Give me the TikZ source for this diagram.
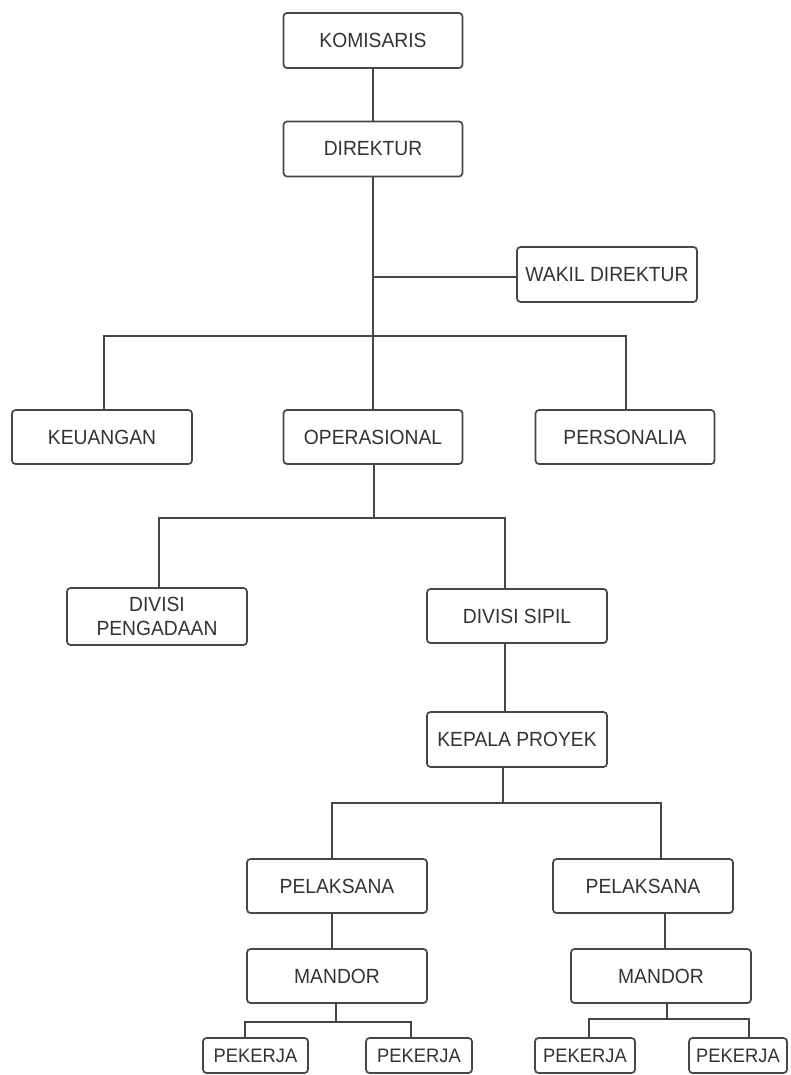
\documentclass[tikz,border=0pt]{standalone}
\usepackage{fontspec}
\setmainfont[FakeStretch=0.94]{Liberation Sans}
\definecolor{ln}{HTML}{464646}
\definecolor{tx}{HTML}{333333}
\begin{document}
\begin{tikzpicture}[x=1pt,y=-1pt,
  box/.style={draw=ln,line width=1.7pt,rounded corners=3.5pt,fill=white,text=tx,
    font=\fontsize{20.5}{24}\selectfont,align=center,inner sep=0pt,
    minimum width=179pt,minimum height=55pt},
  small/.style={box,minimum height=35pt,font=\fontsize{19.5}{22}\selectfont},
  conn/.style={draw=ln,line width=1.7pt}]
\useasboundingbox (0,0) rectangle (790,1075);
\fill[white] (0,0) rectangle (790,1075);
\coordinate (j1) at (373,277);
\coordinate (bar1) at (373,336);
\coordinate (bar2) at (374,518);
\coordinate (bar3) at (503,803);
\coordinate (bar4) at (336,1022);
\coordinate (bar5) at (667,1019);
% nodes
\node[box] (kom) at (373,40.5) {KOMISARIS};
\node[box] (dir) at (373,149) {DIREKTUR};
\node[box,minimum width=180pt] (wakil) at (607,274.5) {WAKIL DIREKTUR};
\node[box,minimum width=180pt,minimum height=54pt] (keu) at (102,437) {KEUANGAN};
\node[box,minimum height=54pt] (ops) at (373,437) {OPERASIONAL};
\node[box,minimum height=54pt] (pers) at (625,437) {PERSONALIA};
\node[box,minimum width=180pt,minimum height=57pt] (peng) at (157,616.5) {DIVISI\\PENGADAAN};
\node[box,minimum width=180pt,minimum height=54pt] (sipil) at (517,616) {DIVISI SIPIL};
\node[box,minimum width=180pt] (kep) at (517,739.5) {KEPALA PROYEK};
\node[box,minimum width=180pt,minimum height=54pt] (pel1) at (337,886) {PELAKSANA};
\node[box,minimum width=180pt,minimum height=54pt] (pel2) at (643,886) {PELAKSANA};
\node[box,minimum width=180pt,minimum height=54pt] (man1) at (337,976) {MANDOR};
\node[box,minimum width=180pt,minimum height=54pt] (man2) at (661,976) {MANDOR};
\node[small,minimum width=105pt] (p1) at (255.5,1055.5) {PEKERJA};
\node[small,minimum width=106pt] (p2) at (419,1055.5) {PEKERJA};
\node[small,minimum width=100pt] (p3) at (585,1055.5) {PEKERJA};
\node[small,minimum width=98pt] (p4) at (738,1055.5) {PEKERJA};
% connectors
\draw[conn] (kom.south) -- (dir.north);
\draw[conn] (dir.south) -- (ops.north);
\draw[conn] (j1) -- (j1 -| wakil.west);
\draw[conn] ([xshift=2pt]keu.north) -- ([xshift=2pt]keu.north |- bar1) -- ([xshift=1pt]pers.north |- bar1) -- ([xshift=1pt]pers.north);
\draw[conn] ([xshift=1pt]ops.south) -- (bar2);
\draw[conn] ([xshift=2pt]peng.north) -- ([xshift=2pt]peng.north |- bar2) -- ([xshift=-12pt]sipil.north |- bar2) -- ([xshift=-12pt]sipil.north);
\draw[conn] ([xshift=-12pt]sipil.south) -- ([xshift=-12pt]kep.north);
\draw[conn] ([xshift=-14pt]kep.south) -- (bar3);
\draw[conn] ([xshift=-5pt]pel1.north) -- ([xshift=-5pt]pel1.north |- bar3) -- ([xshift=18pt]pel2.north |- bar3) -- ([xshift=18pt]pel2.north);
\draw[conn] ([xshift=-5pt]pel1.south) -- ([xshift=-5pt]man1.north);
\draw[conn] ([xshift=22pt]pel2.south) -- ([xshift=4pt]man2.north);
\draw[conn] ([xshift=-1pt]man1.south) -- (bar4);
\draw[conn] ([xshift=-10.5pt]p1.north) -- ([xshift=-10.5pt]p1.north |- bar4) -- ([xshift=-8pt]p2.north |- bar4) -- ([xshift=-8pt]p2.north);
\draw[conn] ([xshift=6pt]man2.south) -- (bar5);
\draw[conn] ([xshift=4pt]p3.north) -- ([xshift=4pt]p3.north |- bar5) -- ([xshift=11pt]p4.north |- bar5) -- ([xshift=11pt]p4.north);
\end{tikzpicture}
\end{document}
